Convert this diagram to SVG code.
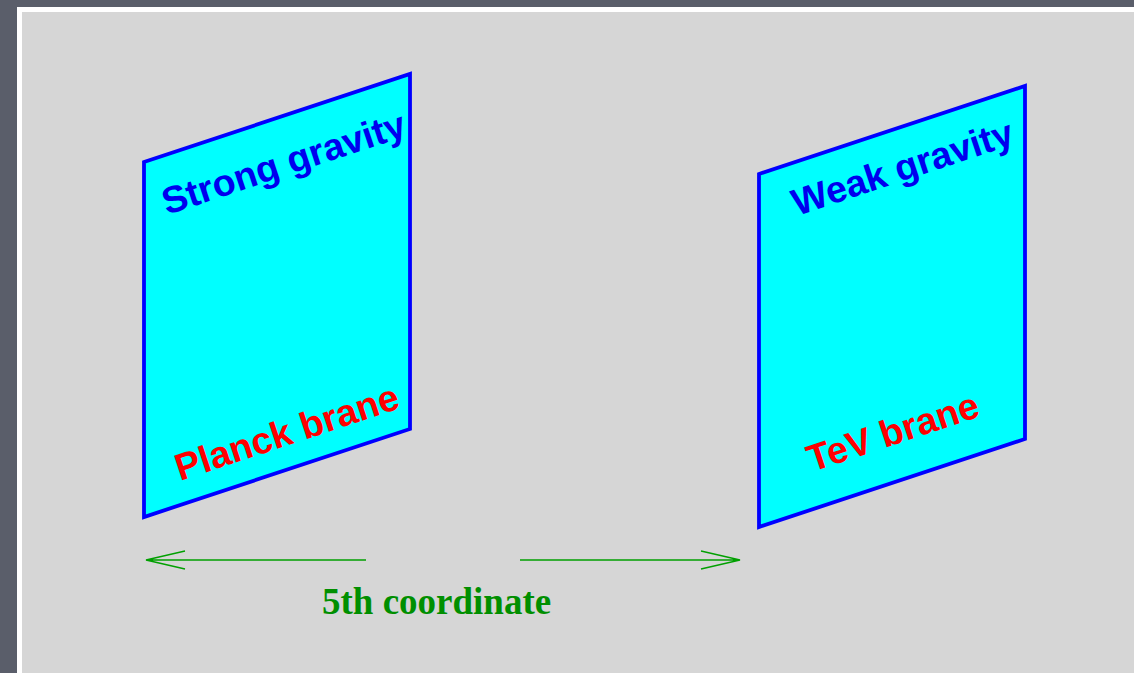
<svg xmlns="http://www.w3.org/2000/svg" width="1134" height="673" viewBox="0 0 1134 673">
<style>
.brane{fill:#00ffff;stroke:#0000ff;stroke-width:3.8;stroke-linejoin:miter}
.lbl{font-family:"Liberation Sans",Arial,sans-serif;font-weight:bold;font-size:37.5px}
.blue{fill:#0000ee}
.red{fill:#ff0000}
.axis{stroke:#00a000;stroke-width:1.3;fill:none}
.axtxt{font-family:"Liberation Serif","Times New Roman",serif;font-weight:bold;font-size:37px;fill:#008f00}
</style>
<rect x="0" y="0" width="1134" height="673" fill="#5a5e6a"/>
<rect x="17" y="7" width="1117" height="666" fill="#ffffff"/>
<rect x="22" y="12" width="1112" height="661" fill="#d6d6d6"/>
<g id="planck-brane">
<polygon class="brane" points="144,162 410,74 410,429 144,517"/>
<text class="lbl blue" transform="translate(167,215) rotate(-18.3)">Strong gravity</text>
<text class="lbl red" transform="translate(180,481) rotate(-18.3)">Planck brane</text>
</g>
<g id="tev-brane">
<polygon class="brane" points="759,174 1025,86 1025,439 759,527"/>
<text class="lbl blue" transform="translate(797,216) rotate(-18.3)">Weak gravity</text>
<text class="lbl red" transform="translate(812,472) rotate(-18.3)">TeV brane</text>
</g>
<g id="connectors">
<path class="axis" d="M366,560 H146 M185,551 L146,560 L185,569"/>
<path class="axis" d="M520,560 H740 M701,551 L740,560 L701,569"/>
</g>
<text class="axtxt" x="322" y="614">5th coordinate</text>
</svg>
